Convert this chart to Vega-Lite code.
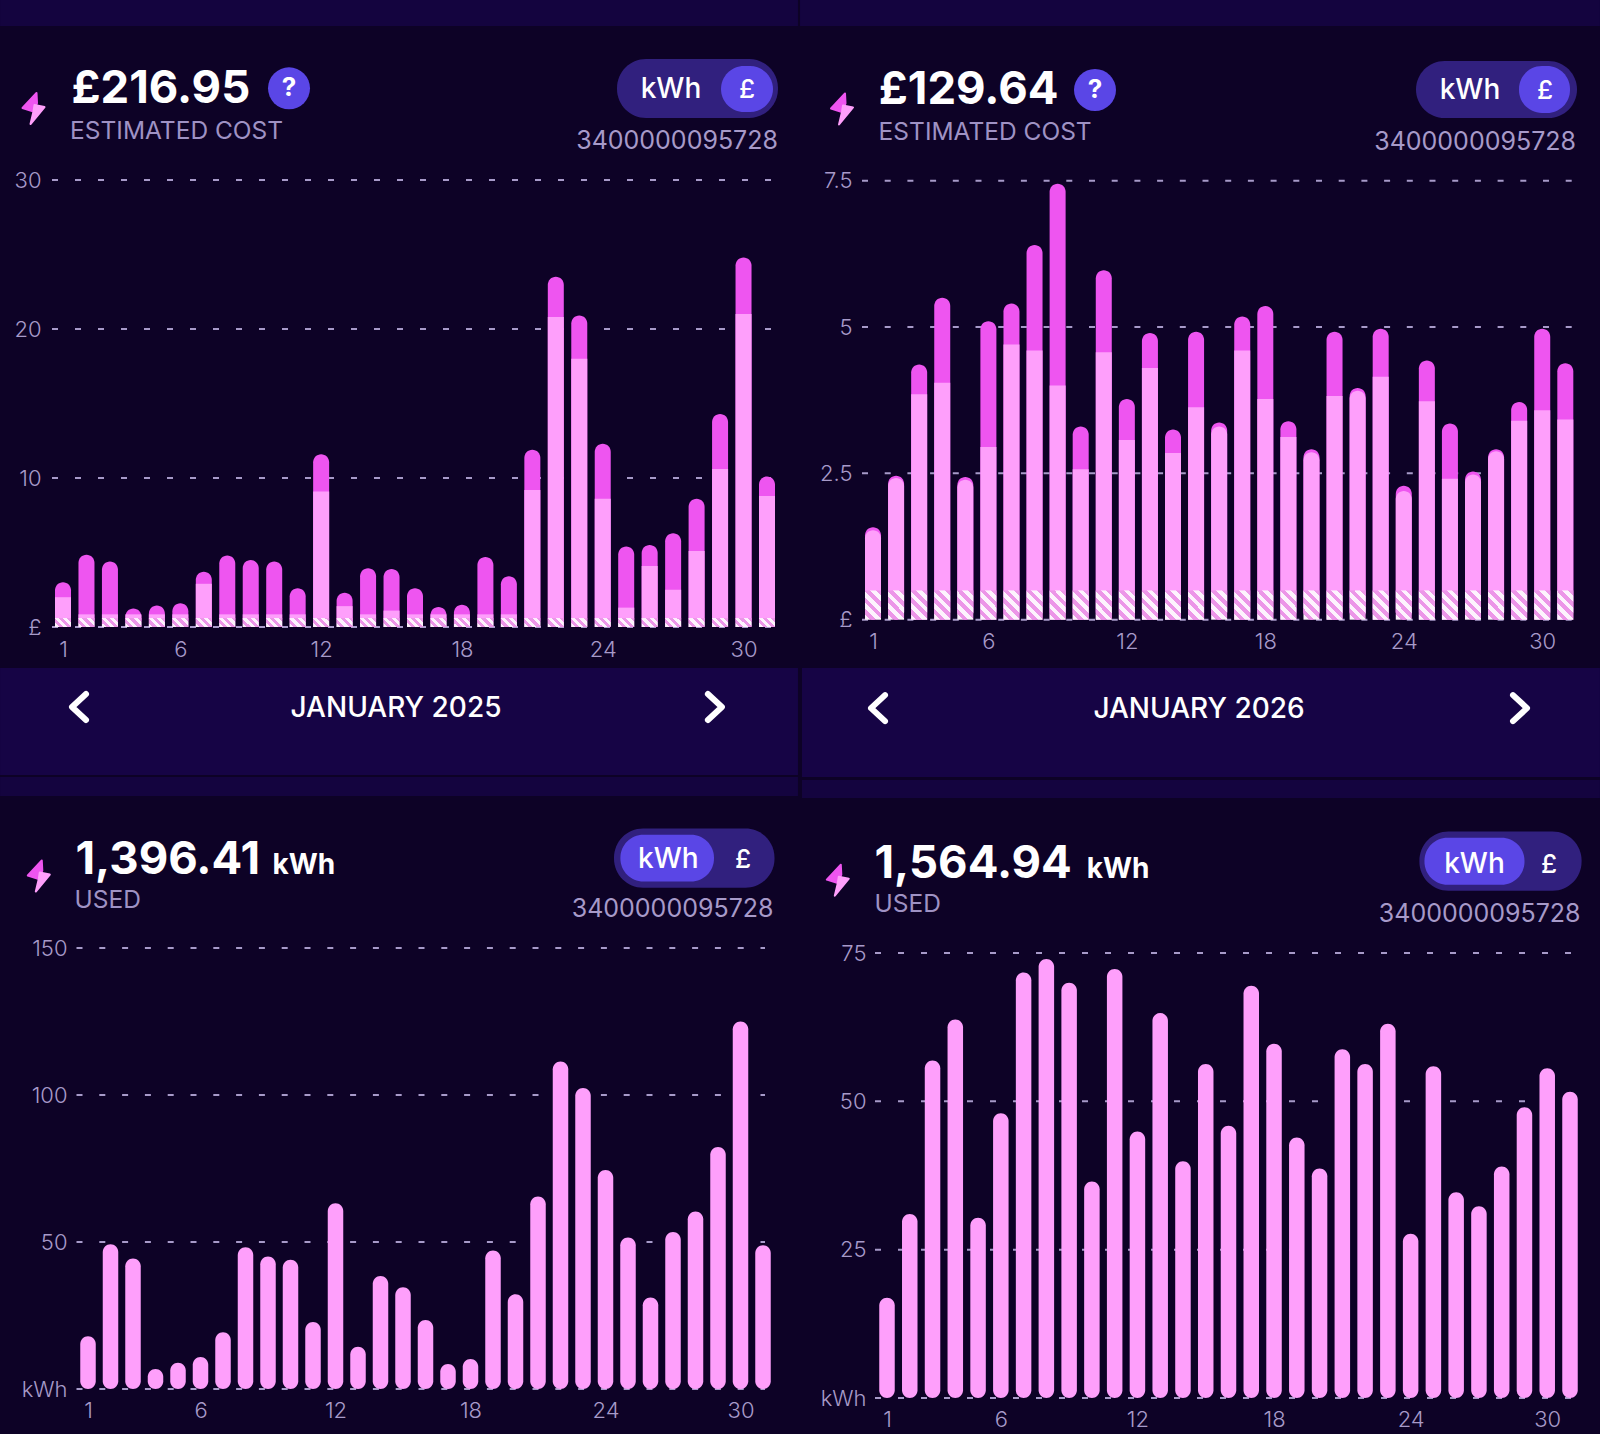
{"$schema":"https://vega.github.io/schema/vega-lite/v6.json","background":"#0d0226","padding":0,"autosize":{"type":"pad"},"columns":2,"spacing":{"row":321,"column":90},"bounds":"flush","config":{"font":"Inter","view":{"stroke":null},"axis":{"grid":false,"domain":false,"ticks":false,"labelColor":"#a79ac9","labelFontSize":22,"labelFontWeight":300,"zindex":1,"labelOverlap":false,"labelBound":false,"labelFlush":false}},"datasets":{"one":[{"a":1}],"gridA":[{"tick":0},{"tick":10},{"tick":20},{"tick":30}],"gridB":[{"tick":0},{"tick":2.5},{"tick":5},{"tick":7.5}],"gridC":[{"tick":0},{"tick":50},{"tick":100},{"tick":150}],"gridD":[{"tick":0},{"tick":25},{"tick":50},{"tick":75}]},"concat":[
{"width":720,"height":447,"data":{"values":[{"day":1,"standing":0.6,"base":2.0,"total":3.0},{"day":2,"standing":0.6,"base":0.85,"total":4.85},{"day":3,"standing":0.6,"base":0.85,"total":4.4},{"day":4,"standing":0.6,"base":0.85,"total":1.25},{"day":5,"standing":0.6,"base":0.85,"total":1.45},{"day":6,"standing":0.6,"base":0.85,"total":1.6},{"day":7,"standing":0.6,"base":2.9,"total":3.7},{"day":8,"standing":0.6,"base":0.85,"total":4.8},{"day":9,"standing":0.6,"base":0.85,"total":4.5},{"day":10,"standing":0.6,"base":0.85,"total":4.4},{"day":11,"standing":0.6,"base":0.85,"total":2.6},{"day":12,"standing":0.6,"base":9.1,"total":11.6},{"day":13,"standing":0.6,"base":1.4,"total":2.3},{"day":14,"standing":0.6,"base":0.85,"total":3.95},{"day":15,"standing":0.6,"base":1.1,"total":3.9},{"day":16,"standing":0.6,"base":0.85,"total":2.6},{"day":17,"standing":0.6,"base":0.85,"total":1.35},{"day":18,"standing":0.6,"base":0.85,"total":1.5},{"day":19,"standing":0.6,"base":0.85,"total":4.7},{"day":20,"standing":0.6,"base":0.85,"total":3.4},{"day":21,"standing":0.6,"base":9.2,"total":11.9},{"day":22,"standing":0.6,"base":20.8,"total":23.5},{"day":23,"standing":0.6,"base":18,"total":20.9},{"day":24,"standing":0.6,"base":8.6,"total":12.3},{"day":25,"standing":0.6,"base":1.3,"total":5.4},{"day":26,"standing":0.6,"base":4.1,"total":5.5},{"day":27,"standing":0.6,"base":2.5,"total":6.3},{"day":28,"standing":0.6,"base":5.1,"total":8.6},{"day":29,"standing":0.6,"base":10.6,"total":14.3},{"day":30,"standing":0.6,"base":21,"total":24.8},{"day":31,"standing":0.6,"base":8.8,"total":10.1}]},"layer":[
{"data":{"name":"one"},"mark":{"type":"rect","color":"#14043f"},"encoding":{"x":{"datum":-1.683},"x2":{"datum":32.32},"y":{"datum":42.077},"y2":{"datum":40.336}}},
{"data":{"name":"one"},"mark":{"type":"rect","color":"#160445"},"encoding":{"x":{"datum":-1.683},"x2":{"datum":32.32},"y":{"datum":-2.752},"y2":{"datum":-9.933}}},
{"data":{"name":"one"},"mark":{"type":"rect","color":"#14043f"},"encoding":{"x":{"datum":-1.683},"x2":{"datum":32.32},"y":{"datum":-10.067},"y2":{"datum":-11.342}}},
{"data":{"name":"gridA"},"mark":{"type":"rule","color":"#a79ac9","strokeWidth":2,"strokeDash":[6,17]},"encoding":{"y":{"field":"tick","type":"quantitative","title":null},"x":{"datum":0.531},"x2":{"datum":31.213}}},
{"mark":{"type":"bar","size":16,"color":"#ee55f0","cornerRadiusEnd":8},"encoding":{"x":{"field":"day","type":"quantitative","title":null,"scale":{"domain":[0.531,31.213],"nice":false,"zero":false,"padding":0},"axis":{"values":[1,6,12,18,24,30],"format":"d","labelPadding":12,"title":null}},"y":{"field":"total","type":"quantitative","title":null,"scale":{"domain":[0,30],"nice":false},"axis":{"values":[0,10,20,30],"labelExpr":"datum.value==0?'£':''+datum.value","labelPadding":11,"title":null}},"y2":{"datum":0}}},
{"mark":{"type":"bar","size":16,"color":"#fe9ffb"},"encoding":{"x":{"field":"day","type":"quantitative","title":null},"y":{"field":"base","type":"quantitative","title":null},"y2":{"datum":0}}},
{"mark":{"type":"bar","size":16,"color":{"gradient":"linear","x1":-0.1,"y1":0.8375,"x2":1.1,"y2":0.1625,"stops":[{"offset":0,"color":"#fdf3fd"},{"offset":0.167,"color":"#fdf3fd"},{"offset":0.167,"color":"#ec96e8"},{"offset":0.333,"color":"#ec96e8"},{"offset":0.333,"color":"#fdf3fd"},{"offset":0.5,"color":"#fdf3fd"},{"offset":0.5,"color":"#ec96e8"},{"offset":0.667,"color":"#ec96e8"},{"offset":0.667,"color":"#fdf3fd"},{"offset":0.833,"color":"#fdf3fd"},{"offset":0.833,"color":"#ec96e8"},{"offset":1,"color":"#ec96e8"}]}},"encoding":{"x":{"field":"day","type":"quantitative","title":null},"y":{"field":"standing","type":"quantitative","title":null},"y2":{"datum":0}}},
{"data":{"name":"one"},"mark":{"type":"point","shape":"M3,-15 L-11,0 L0,3.5 L3.5,-5 Z","size":4,"filled":true,"fill":"#ee55f0","stroke":"#ee55f0","strokeWidth":2,"strokeJoin":"round","opacity":1},"encoding":{"x":{"datum":-0.257},"y":{"datum":34.832}}},
{"data":{"name":"one"},"mark":{"type":"point","shape":"M11,-1 L-3,16 L0,3.5 L1,-3 Z","size":4,"filled":true,"fill":"#fe9ffb","stroke":"#fe9ffb","strokeWidth":2,"strokeJoin":"round","opacity":1},"encoding":{"x":{"datum":-0.257},"y":{"datum":34.832}}},
{"data":{"values":[{"t":"£216.95"}]},"mark":{"type":"text","align":"left","baseline":"alphabetic","fontSize":45.5,"fontWeight":"bold","color":"#ffffff"},"encoding":{"x":{"datum":1.36},"y":{"datum":35.168},"text":{"field":"t"}}},
{"data":{"values":[{"t":"ESTIMATED COST"}]},"mark":{"type":"text","align":"left","baseline":"alphabetic","fontSize":24.5,"color":"#9f92c4"},"encoding":{"x":{"datum":1.3},"y":{"datum":32.732},"text":{"field":"t"}}},
{"data":{"name":"one"},"mark":{"type":"point","shape":"circle","size":1764,"filled":true,"color":"#5a46e6","opacity":1},"encoding":{"x":{"datum":10.631},"y":{"datum":36.154}}},
{"data":{"values":[{"t":"?"}]},"mark":{"type":"text","align":"center","baseline":"middle","fontSize":26,"fontWeight":"bold","color":"#ffffff"},"encoding":{"x":{"datum":10.631},"y":{"datum":36.154},"text":{"field":"t"}}},
{"data":{"name":"one"},"mark":{"type":"rect","color":"#31207e","cornerRadius":29},"encoding":{"x":{"datum":24.608},"x2":{"datum":31.468},"y":{"datum":38.121},"y2":{"datum":34.161}}},
{"data":{"name":"one"},"mark":{"type":"rect","color":"#5a46e6","cornerRadius":23},"encoding":{"x":{"datum":29.04},"x2":{"datum":31.255},"y":{"datum":37.651},"y2":{"datum":34.564}}},
{"data":{"values":[{"t":"kWh"}]},"mark":{"type":"text","align":"center","baseline":"alphabetic","fontSize":28,"fontWeight":500,"color":"#ffffff"},"encoding":{"x":{"datum":26.909},"y":{"datum":35.503},"text":{"field":"t"}}},
{"data":{"values":[{"t":"£"}]},"mark":{"type":"text","align":"center","baseline":"alphabetic","fontSize":26,"fontWeight":500,"color":"#ffffff"},"encoding":{"x":{"datum":30.147},"y":{"datum":35.503},"text":{"field":"t"}}},
{"data":{"values":[{"t":"3400000095728"}]},"mark":{"type":"text","align":"right","baseline":"alphabetic","fontSize":25,"color":"#a79ac9"},"encoding":{"x":{"datum":31.468},"y":{"datum":32.081},"text":{"field":"t"}}},
{"data":{"values":[{"t":"JANUARY 2025"}]},"mark":{"type":"text","align":"center","baseline":"alphabetic","fontSize":28,"fontWeight":500,"color":"#ffffff"},"encoding":{"x":{"datum":15.19},"y":{"datum":-6.04},"text":{"field":"t"}}},
{"data":{"name":"one"},"mark":{"type":"point","shape":"M7,-13 L-7,0 L7,13","size":4,"filled":false,"stroke":"#ffffff","strokeWidth":6,"strokeCap":"round","strokeJoin":"round","opacity":1},"encoding":{"x":{"datum":1.682},"y":{"datum":-5.369}}},
{"data":{"name":"one"},"mark":{"type":"point","shape":"M-7,-13 L7,0 L-7,13","size":4,"filled":false,"stroke":"#ffffff","strokeWidth":6,"strokeCap":"round","strokeJoin":"round","opacity":1},"encoding":{"x":{"datum":28.78},"y":{"datum":-5.369}}}
]},
{"width":710,"height":447,"data":{"values":[{"day":1,"standing":0.5,"base":1.53,"total":1.58},{"day":2,"standing":0.5,"base":2.42,"total":2.46},{"day":3,"standing":0.5,"base":3.85,"total":4.36},{"day":4,"standing":0.5,"base":4.05,"total":5.5},{"day":5,"standing":0.5,"base":2.39,"total":2.44},{"day":6,"standing":0.5,"base":2.95,"total":5.1},{"day":7,"standing":0.5,"base":4.7,"total":5.4},{"day":8,"standing":0.5,"base":4.6,"total":6.4},{"day":9,"standing":0.5,"base":4.0,"total":7.45},{"day":10,"standing":0.5,"base":2.57,"total":3.3},{"day":11,"standing":0.5,"base":4.57,"total":5.97},{"day":12,"standing":0.5,"base":3.07,"total":3.77},{"day":13,"standing":0.5,"base":4.3,"total":4.9},{"day":14,"standing":0.5,"base":2.85,"total":3.25},{"day":15,"standing":0.5,"base":3.63,"total":4.92},{"day":16,"standing":0.5,"base":3.3,"total":3.37},{"day":17,"standing":0.5,"base":4.6,"total":5.18},{"day":18,"standing":0.5,"base":3.77,"total":5.36},{"day":19,"standing":0.5,"base":3.12,"total":3.39},{"day":20,"standing":0.5,"base":2.86,"total":2.91},{"day":21,"standing":0.5,"base":3.82,"total":4.92},{"day":22,"standing":0.5,"base":3.91,"total":3.96},{"day":23,"standing":0.5,"base":4.15,"total":4.97},{"day":24,"standing":0.5,"base":2.2,"total":2.29},{"day":25,"standing":0.5,"base":3.73,"total":4.43},{"day":26,"standing":0.5,"base":2.41,"total":3.35},{"day":27,"standing":0.5,"base":2.48,"total":2.53},{"day":28,"standing":0.5,"base":2.88,"total":2.91},{"day":29,"standing":0.5,"base":3.4,"total":3.72},{"day":30,"standing":0.5,"base":3.58,"total":4.97},{"day":31,"standing":0.5,"base":3.42,"total":4.38}]},"layer":[
{"data":{"name":"one"},"mark":{"type":"rect","color":"#14043f"},"encoding":{"x":{"datum":-2.163},"x2":{"datum":32.501},"y":{"datum":10.587},"y2":{"datum":10.143}}},
{"data":{"name":"one"},"mark":{"type":"rect","color":"#160445"},"encoding":{"x":{"datum":-2.077},"x2":{"datum":32.501},"y":{"datum":-0.825},"y2":{"datum":-2.687}}},
{"data":{"name":"one"},"mark":{"type":"rect","color":"#14043f"},"encoding":{"x":{"datum":-2.077},"x2":{"datum":32.501},"y":{"datum":-2.739},"y2":{"datum":-3.047}}},
{"data":{"name":"gridB"},"mark":{"type":"rule","color":"#a79ac9","strokeWidth":2,"strokeDash":[6,16.7]},"encoding":{"y":{"field":"tick","type":"quantitative","title":null},"x":{"datum":0.523},"x2":{"datum":31.29}}},
{"mark":{"type":"bar","size":16,"color":"#ee55f0","cornerRadiusEnd":8},"encoding":{"x":{"field":"day","type":"quantitative","title":null,"scale":{"domain":[0.523,31.29],"nice":false,"zero":false,"padding":0},"axis":{"values":[1,6,12,18,24,30],"format":"d","labelPadding":4,"title":null}},"y":{"field":"total","type":"quantitative","title":null,"scale":{"domain":[-0.1247,7.512],"nice":false,"zero":false},"axis":{"values":[0,2.5,5,7.5],"labelExpr":"datum.value==0?'£':''+datum.value","labelPadding":10,"title":null}},"y2":{"datum":0}}},
{"mark":{"type":"bar","size":16,"color":"#fe9ffb","cornerRadiusEnd":{"expr":"datum.total-datum.base<0.14?8:0"}},"encoding":{"x":{"field":"day","type":"quantitative","title":null},"y":{"field":"base","type":"quantitative","title":null},"y2":{"datum":0}}},
{"mark":{"type":"bar","size":16,"color":{"gradient":"linear","x1":0.17,"y1":1.1,"x2":0.83,"y2":-0.1,"stops":[{"offset":0,"color":"#fdf3fd"},{"offset":0.125,"color":"#fdf3fd"},{"offset":0.125,"color":"#ec96e8"},{"offset":0.25,"color":"#ec96e8"},{"offset":0.25,"color":"#fdf3fd"},{"offset":0.375,"color":"#fdf3fd"},{"offset":0.375,"color":"#ec96e8"},{"offset":0.5,"color":"#ec96e8"},{"offset":0.5,"color":"#fdf3fd"},{"offset":0.625,"color":"#fdf3fd"},{"offset":0.625,"color":"#ec96e8"},{"offset":0.75,"color":"#ec96e8"},{"offset":0.75,"color":"#fdf3fd"},{"offset":0.875,"color":"#fdf3fd"},{"offset":0.875,"color":"#ec96e8"},{"offset":1,"color":"#ec96e8"}]}},"encoding":{"x":{"field":"day","type":"quantitative","title":null},"y":{"field":"standing","type":"quantitative","title":null},"y2":{"datum":0}}},
{"data":{"name":"one"},"mark":{"type":"point","shape":"M3,-15 L-11,0 L0,3.5 L3.5,-5 Z","size":4,"filled":true,"fill":"#ee55f0","stroke":"#ee55f0","strokeWidth":2,"strokeJoin":"round","opacity":1},"encoding":{"x":{"datum":-0.343},"y":{"datum":8.734}}},
{"data":{"name":"one"},"mark":{"type":"point","shape":"M11,-1 L-3,16 L0,3.5 L1,-3 Z","size":4,"filled":true,"fill":"#fe9ffb","stroke":"#fe9ffb","strokeWidth":2,"strokeJoin":"round","opacity":1},"encoding":{"x":{"datum":-0.343},"y":{"datum":8.734}}},
{"data":{"values":[{"t":"£129.64"}]},"mark":{"type":"text","align":"left","baseline":"alphabetic","fontSize":45.5,"fontWeight":"bold","color":"#ffffff"},"encoding":{"x":{"datum":1.25},"y":{"datum":8.811},"text":{"field":"t"}}},
{"data":{"values":[{"t":"ESTIMATED COST"}]},"mark":{"type":"text","align":"left","baseline":"alphabetic","fontSize":24.5,"color":"#9f92c4"},"encoding":{"x":{"datum":1.243},"y":{"datum":8.196},"text":{"field":"t"}}},
{"data":{"name":"one"},"mark":{"type":"point","shape":"circle","size":1764,"filled":true,"color":"#5a46e6","opacity":1},"encoding":{"x":{"datum":10.62},"y":{"datum":9.05}}},
{"data":{"values":[{"t":"?"}]},"mark":{"type":"text","align":"center","baseline":"middle","fontSize":26,"fontWeight":"bold","color":"#ffffff"},"encoding":{"x":{"datum":10.62},"y":{"datum":9.05},"text":{"field":"t"}}},
{"data":{"name":"one"},"mark":{"type":"rect","color":"#31207e","cornerRadius":29},"encoding":{"x":{"datum":24.53},"x2":{"datum":31.507},"y":{"datum":9.546},"y2":{"datum":8.571}}},
{"data":{"name":"one"},"mark":{"type":"rect","color":"#5a46e6","cornerRadius":23},"encoding":{"x":{"datum":28.993},"x2":{"datum":31.203},"y":{"datum":9.46},"y2":{"datum":8.657}}},
{"data":{"values":[{"t":"kWh"}]},"mark":{"type":"text","align":"center","baseline":"alphabetic","fontSize":28,"fontWeight":500,"color":"#ffffff"},"encoding":{"x":{"datum":26.87},"y":{"datum":8.895},"text":{"field":"t"}}},
{"data":{"values":[{"t":"£"}]},"mark":{"type":"text","align":"center","baseline":"alphabetic","fontSize":26,"fontWeight":500,"color":"#ffffff"},"encoding":{"x":{"datum":30.12},"y":{"datum":8.895},"text":{"field":"t"}}},
{"data":{"values":[{"t":"3400000095728"}]},"mark":{"type":"text","align":"right","baseline":"alphabetic","fontSize":25,"color":"#a79ac9"},"encoding":{"x":{"datum":31.464},"y":{"datum":8.025},"text":{"field":"t"}}},
{"data":{"values":[{"t":"JANUARY 2026"}]},"mark":{"type":"text","align":"center","baseline":"alphabetic","fontSize":28,"fontWeight":500,"color":"#ffffff"},"encoding":{"x":{"datum":15.127},"y":{"datum":-1.68},"text":{"field":"t"}}},
{"data":{"name":"one"},"mark":{"type":"point","shape":"M7,-13 L-7,0 L7,13","size":4,"filled":false,"stroke":"#ffffff","strokeWidth":6,"strokeCap":"round","strokeJoin":"round","opacity":1},"encoding":{"x":{"datum":1.217},"y":{"datum":-1.511}}},
{"data":{"name":"one"},"mark":{"type":"point","shape":"M-7,-13 L7,0 L-7,13","size":4,"filled":false,"stroke":"#ffffff","strokeWidth":6,"strokeCap":"round","strokeJoin":"round","opacity":1},"encoding":{"x":{"datum":29.037},"y":{"datum":-1.511}}}
]},
{"width":720,"height":450,"data":{"values":[{"day":1,"kwh":17.9},{"day":2,"kwh":49.2},{"day":3,"kwh":44.4},{"day":4,"kwh":6.8},{"day":5,"kwh":8.9},{"day":6,"kwh":10.9},{"day":7,"kwh":19.3},{"day":8,"kwh":48.2},{"day":9,"kwh":45.1},{"day":10,"kwh":44},{"day":11,"kwh":22.8},{"day":12,"kwh":63.2},{"day":13,"kwh":14.4},{"day":14,"kwh":38.4},{"day":15,"kwh":34.6},{"day":16,"kwh":23.5},{"day":17,"kwh":8.5},{"day":18,"kwh":10.2},{"day":19,"kwh":47.1},{"day":20,"kwh":32.2},{"day":21,"kwh":65.5},{"day":22,"kwh":111.4},{"day":23,"kwh":102.4},{"day":24,"kwh":74.5},{"day":25,"kwh":51.5},{"day":26,"kwh":31.1},{"day":27,"kwh":53.4},{"day":28,"kwh":60.4},{"day":29,"kwh":82.3},{"day":30,"kwh":125},{"day":31,"kwh":48.9}]},"layer":[
{"data":{"name":"gridC"},"mark":{"type":"rule","color":"#a79ac9","strokeWidth":2,"strokeDash":[6,16.8]},"encoding":{"y":{"field":"tick","type":"quantitative","title":null},"x":{"datum":0.489},"x2":{"datum":31.089}}},
{"mark":{"type":"bar","size":15.5,"color":"#fe9ffb","cornerRadiusEnd":7.75},"encoding":{"x":{"field":"day","type":"quantitative","title":null,"scale":{"domain":[-0.6,31.4],"nice":false,"zero":false,"padding":0},"axis":{"values":[1,6,12,18,24,30],"format":"d","labelPadding":2,"title":null}},"y":{"field":"kwh","type":"quantitative","title":null,"scale":{"domain":[-3.061,150],"nice":false,"zero":false},"axis":{"values":[0,50,100,150],"labelExpr":"datum.value==0?'kWh':''+datum.value","labelPadding":-15,"title":null}},"y2":{"datum":0}}},
{"data":{"name":"one"},"mark":{"type":"point","shape":"M3,-15 L-11,0 L0,3.5 L3.5,-5 Z","size":4,"filled":true,"fill":"#ee55f0","stroke":"#ee55f0","strokeWidth":2,"strokeJoin":"round","opacity":1},"encoding":{"x":{"datum":-1.187},"y":{"datum":174.66}}},
{"data":{"name":"one"},"mark":{"type":"point","shape":"M11,-1 L-3,16 L0,3.5 L1,-3 Z","size":4,"filled":true,"fill":"#fe9ffb","stroke":"#fe9ffb","strokeWidth":2,"strokeJoin":"round","opacity":1},"encoding":{"x":{"datum":-1.187},"y":{"datum":174.66}}},
{"data":{"values":[{"t":"1,396.41"}]},"mark":{"type":"text","align":"left","baseline":"alphabetic","fontSize":45.5,"fontWeight":"bold","color":"#ffffff"},"encoding":{"x":{"datum":0.444},"y":{"datum":175.34},"text":{"field":"t"}}},
{"data":{"values":[{"t":"kWh"}]},"mark":{"type":"text","align":"left","baseline":"alphabetic","fontSize":28,"fontWeight":"bold","color":"#ffffff"},"encoding":{"x":{"datum":9.2},"y":{"datum":175.34},"text":{"field":"t"}}},
{"data":{"values":[{"t":"USED"}]},"mark":{"type":"text","align":"left","baseline":"alphabetic","fontSize":24.5,"color":"#9f92c4"},"encoding":{"x":{"datum":0.4},"y":{"datum":163.61},"text":{"field":"t"}}},
{"data":{"name":"one"},"mark":{"type":"rect","color":"#31207e","cornerRadius":29},"encoding":{"x":{"datum":24.378},"x2":{"datum":31.511},"y":{"datum":190.61},"y2":{"datum":170.51}}},
{"data":{"name":"one"},"mark":{"type":"rect","color":"#5a46e6","cornerRadius":23},"encoding":{"x":{"datum":24.662},"x2":{"datum":28.822},"y":{"datum":188.54},"y2":{"datum":172.59}}},
{"data":{"values":[{"t":"kWh"}]},"mark":{"type":"text","align":"center","baseline":"alphabetic","fontSize":28,"fontWeight":500,"color":"#ffffff"},"encoding":{"x":{"datum":26.796},"y":{"datum":177.07},"text":{"field":"t"}}},
{"data":{"values":[{"t":"£"}]},"mark":{"type":"text","align":"center","baseline":"alphabetic","fontSize":26,"fontWeight":500,"color":"#ffffff"},"encoding":{"x":{"datum":30.111},"y":{"datum":177.07},"text":{"field":"t"}}},
{"data":{"values":[{"t":"3400000095728"}]},"mark":{"type":"text","align":"right","baseline":"alphabetic","fontSize":25,"color":"#a79ac9"},"encoding":{"x":{"datum":31.467},"y":{"datum":160.54},"text":{"field":"t"}}}
]},
{"width":710,"height":450,"data":{"values":[{"day":1,"kwh":16.9},{"day":2,"kwh":31},{"day":3,"kwh":56.9},{"day":4,"kwh":63.8},{"day":5,"kwh":30.4},{"day":6,"kwh":48},{"day":7,"kwh":71.7},{"day":8,"kwh":74},{"day":9,"kwh":70},{"day":10,"kwh":36.5},{"day":11,"kwh":72.3},{"day":12,"kwh":44.9},{"day":13,"kwh":64.9},{"day":14,"kwh":39.9},{"day":15,"kwh":56.3},{"day":16,"kwh":45.9},{"day":17,"kwh":69.5},{"day":18,"kwh":59.7},{"day":19,"kwh":43.9},{"day":20,"kwh":38.7},{"day":21,"kwh":58.8},{"day":22,"kwh":56.3},{"day":23,"kwh":63.1},{"day":24,"kwh":27.7},{"day":25,"kwh":55.9},{"day":26,"kwh":34.7},{"day":27,"kwh":32.3},{"day":28,"kwh":39},{"day":29,"kwh":49},{"day":30,"kwh":55.6},{"day":31,"kwh":51.6}]},"layer":[
{"data":{"name":"one"},"mark":{"type":"rect","color":"#0d0226"},"encoding":{"x":{"datum":31.878},"x2":{"datum":32.315},"y":{"datum":-5.394},"y2":{"datum":-6.059}}},
{"data":{"name":"gridD"},"mark":{"type":"rule","color":"#a79ac9","strokeWidth":2,"strokeDash":[6,17]},"encoding":{"y":{"field":"tick","type":"quantitative","title":null},"x":{"datum":0.473},"x2":{"datum":31.043}}},
{"mark":{"type":"bar","size":15.5,"color":"#fe9ffb","cornerRadiusEnd":7.75},"encoding":{"x":{"field":"day","type":"quantitative","title":null,"scale":{"domain":[-0.098,31.088],"nice":false,"zero":false,"padding":0},"axis":{"values":[1,6,12,18,24,30],"format":"d","labelPadding":11,"title":null}},"y":{"field":"kwh","type":"quantitative","title":null,"scale":{"domain":[0,75.85],"nice":false},"axis":{"values":[0,25,50,75],"labelExpr":"datum.value==0?'kWh':''+datum.value","labelPadding":-4,"title":null}},"y2":{"datum":0}}},
{"data":{"name":"one"},"mark":{"type":"point","shape":"M3,-15 L-11,0 L0,3.5 L3.5,-5 Z","size":4,"filled":true,"fill":"#ee55f0","stroke":"#ee55f0","strokeWidth":2,"strokeJoin":"round","opacity":1},"encoding":{"x":{"datum":-1.161},"y":{"datum":87.37}}},
{"data":{"name":"one"},"mark":{"type":"point","shape":"M11,-1 L-3,16 L0,3.5 L1,-3 Z","size":4,"filled":true,"fill":"#fe9ffb","stroke":"#fe9ffb","strokeWidth":2,"strokeJoin":"round","opacity":1},"encoding":{"x":{"datum":-1.161},"y":{"datum":87.37}}},
{"data":{"values":[{"t":"1,564.94"}]},"mark":{"type":"text","align":"left","baseline":"alphabetic","fontSize":45.5,"fontWeight":"bold","color":"#ffffff"},"encoding":{"x":{"datum":0.451},"y":{"datum":87.73},"text":{"field":"t"}}},
{"data":{"values":[{"t":"kWh"}]},"mark":{"type":"text","align":"left","baseline":"alphabetic","fontSize":28,"fontWeight":"bold","color":"#ffffff"},"encoding":{"x":{"datum":9.771},"y":{"datum":87.73},"text":{"field":"t"}}},
{"data":{"values":[{"t":"USED"}]},"mark":{"type":"text","align":"left","baseline":"alphabetic","fontSize":24.5,"color":"#9f92c4"},"encoding":{"x":{"datum":0.451},"y":{"datum":81.91},"text":{"field":"t"}}},
{"data":{"name":"one"},"mark":{"type":"rect","color":"#31207e","cornerRadius":29},"encoding":{"x":{"datum":24.385},"x2":{"datum":31.509},"y":{"datum":95.47},"y2":{"datum":85.49}}},
{"data":{"name":"one"},"mark":{"type":"rect","color":"#5a46e6","cornerRadius":23},"encoding":{"x":{"datum":24.608},"x2":{"datum":29.001},"y":{"datum":94.42},"y2":{"datum":86.52}}},
{"data":{"values":[{"t":"kWh"}]},"mark":{"type":"text","align":"center","baseline":"alphabetic","fontSize":28,"fontWeight":500,"color":"#ffffff"},"encoding":{"x":{"datum":26.805},"y":{"datum":88.57},"text":{"field":"t"}}},
{"data":{"values":[{"t":"£"}]},"mark":{"type":"text","align":"center","baseline":"alphabetic","fontSize":26,"fontWeight":500,"color":"#ffffff"},"encoding":{"x":{"datum":30.077},"y":{"datum":88.57},"text":{"field":"t"}}},
{"data":{"values":[{"t":"3400000095728"}]},"mark":{"type":"text","align":"right","baseline":"alphabetic","fontSize":25,"color":"#a79ac9"},"encoding":{"x":{"datum":31.465},"y":{"datum":80.31},"text":{"field":"t"}}}
]}
]}
